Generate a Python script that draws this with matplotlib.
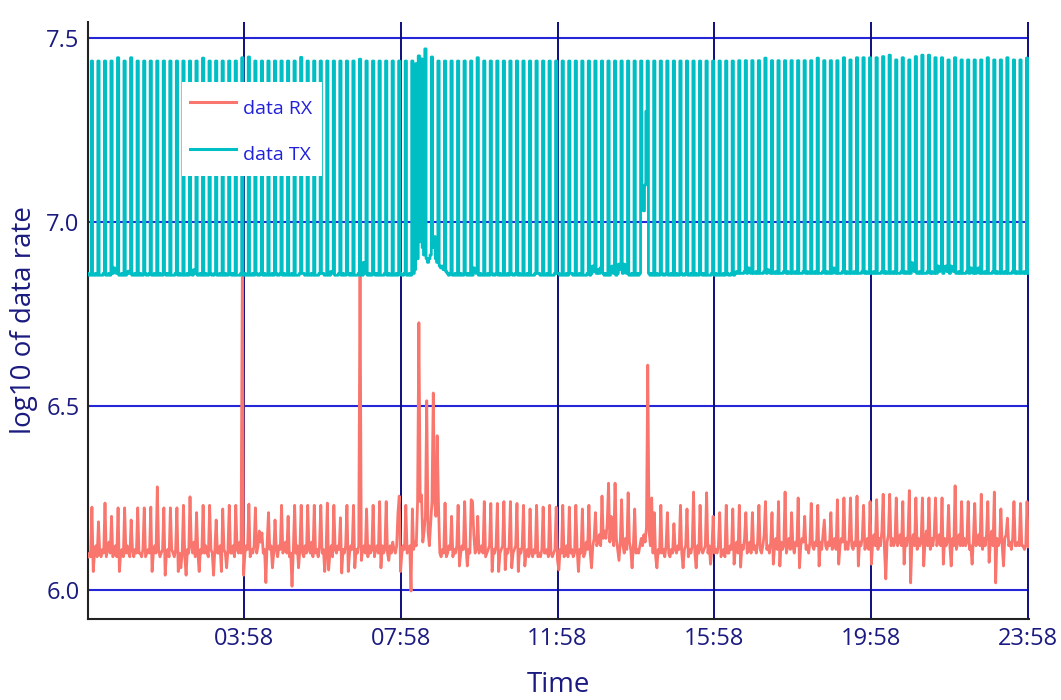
import matplotlib
matplotlib.use("Agg")
import matplotlib.pyplot as plt
from matplotlib.patches import Rectangle
import numpy as np

plt.rcParams['font.family'] = ['Open Sans', 'DejaVu Sans']

# ---------------- data (log10 of data rate, one sample every 2 minutes) ----------------
sample_minutes = 2

tx = [
    6.86, 6.855, 6.855, 7.437, 6.855,   6.855, 6.86, 6.855, 7.437, 6.855,   6.855, 6.855, 6.86, 7.437, 6.855,   6.855, 6.86, 6.855, 7.437, 6.86,
    6.875, 6.865, 6.86, 7.446, 6.855,   6.855, 6.86, 6.855, 7.437, 6.855,   6.86, 6.866, 6.86, 7.446, 6.855,    6.855, 6.86, 6.855, 7.437, 6.855,
    6.86, 6.855, 6.855, 7.437, 6.86,    6.855, 6.855, 6.86, 7.437, 6.855,   6.855, 6.86, 6.855, 7.437, 6.855,   6.86, 6.855, 6.855, 7.437, 6.86,
    6.855, 6.86, 6.855, 7.437, 6.855,   6.855, 6.855, 6.86, 7.437, 6.855,   6.86, 6.855, 6.855, 7.437, 6.855,   6.855, 6.86, 6.855, 7.437, 6.86,
    6.855, 6.87, 6.86, 7.437, 6.855,    6.855, 6.86, 6.855, 7.445, 6.855,   6.86, 6.855, 6.855, 7.437, 6.86,    6.855, 6.855, 6.86, 7.437, 6.855,
    6.855, 6.86, 6.855, 7.437, 6.855,   6.86, 6.855, 6.855, 7.437, 6.86,    6.855, 6.86, 6.855, 7.437, 6.855,   6.855, 6.855, 6.86, 7.446, 6.855,
    6.86, 6.855, 6.855, 7.448, 6.855,   6.855, 6.86, 6.855, 7.437, 6.86,    6.855, 6.855, 6.86, 7.437, 6.855,   6.86, 6.855, 6.855, 7.437, 6.855,
    6.855, 6.86, 6.855, 7.437, 6.86,    6.855, 6.855, 6.86, 7.437, 6.855,   6.86, 6.855, 6.855, 7.437, 6.855,   6.855, 6.86, 6.855, 7.437, 6.855,
    6.855, 6.855, 6.86, 7.447, 6.86,    6.86, 6.855, 6.855, 7.437, 6.855,   6.855, 6.86, 6.855, 7.437, 6.855,   6.855, 6.855, 6.86, 7.437, 6.86,
    6.86, 6.855, 6.855, 7.437, 6.855,   6.855, 6.865, 6.86, 7.437, 6.855,   6.855, 6.855, 6.86, 7.437, 6.855,   6.86, 6.855, 6.855, 7.437, 6.86,
    6.855, 6.86, 6.855, 7.437, 6.855,   6.855, 6.855, 6.86, 7.442, 6.855,   6.855, 6.89, 6.86, 7.437, 6.855,    6.86, 6.855, 6.855, 7.437, 6.86,
    6.855, 6.86, 6.855, 7.437, 6.855,   6.855, 6.855, 6.86, 7.437, 6.855,   6.86, 6.855, 6.855, 7.437, 6.855,   6.855, 6.86, 6.855, 7.437, 6.86,
    6.855, 6.855, 6.86, 7.437, 6.855,   6.855, 6.86, 6.855, 7.437, 6.86,    6.87, 7.43, 6.90, 7.451, 6.946,      7.443, 6.93, 6.91, 7.47, 6.90,
    6.89, 6.90, 6.91, 7.448, 6.93,      6.96, 6.90, 6.89, 7.437, 6.88,      6.875, 6.88, 6.87, 7.437, 6.865,    6.86, 6.855, 6.86, 7.437, 6.855,
    6.855, 6.86, 6.855, 7.437, 6.855,   6.86, 6.855, 6.855, 7.437, 6.86,    6.855, 6.86, 6.855, 7.437, 6.855,   6.875, 6.865, 6.86, 7.446, 6.855,
    6.86, 6.855, 6.855, 7.437, 6.855,   6.855, 6.86, 6.855, 7.437, 6.86,    6.855, 6.855, 6.86, 7.437, 6.855,   6.86, 6.855, 6.855, 7.437, 6.855,
    6.855, 6.86, 6.855, 7.437, 6.86,    6.855, 6.855, 6.86, 7.437, 6.855,   6.86, 6.855, 6.855, 7.437, 6.855,   6.855, 6.86, 6.855, 7.437, 6.855,
    6.855, 6.855, 6.86, 7.437, 6.86,    6.86, 6.855, 6.855, 7.437, 6.855,   6.855, 6.86, 6.855, 7.437, 6.855,   6.855, 6.855, 6.86, 7.437, 6.86,
    6.86, 6.855, 6.855, 7.437, 6.855,   6.855, 6.86, 6.855, 7.437, 6.86,
    6.86, 6.855, 6.855, 7.437, 6.855,   6.855, 6.86, 6.855, 7.437, 6.855,   6.855, 6.855, 6.86, 7.437, 6.855,   6.86, 6.88, 6.865, 7.437, 6.86,
    6.87, 6.86, 6.875, 7.437, 6.86,     6.855, 6.86, 6.855, 7.437, 6.855,   6.865, 6.88, 6.86, 7.437, 6.855,    6.86, 6.885, 6.87, 7.437, 6.86,
    6.885, 6.87, 6.86, 7.437, 6.855,    6.855, 6.86, 6.855, 7.437, 6.855,   6.86, 6.855, 6.86, 7.437, 7.08,     7.03, 7.10, 7.30, 7.437, 6.86,
    6.855, 6.86, 6.855, 7.437, 6.855,   6.86, 6.855, 6.855, 7.437, 6.86,    6.855, 6.855, 6.86, 7.437, 6.855,   6.855, 6.86, 6.855, 7.437, 6.855,
    6.86, 6.855, 6.855, 7.437, 6.86,    6.855, 6.855, 6.86, 7.437, 6.855,   6.855, 6.86, 6.855, 7.437, 6.855,   6.86, 6.855, 6.855, 7.437, 6.86,
    6.855, 6.86, 6.855, 7.437, 6.855,   6.855, 6.855, 6.86, 7.437, 6.855,   6.86, 6.855, 6.855, 7.437, 6.855,   6.855, 6.86, 6.855, 7.437, 6.86,
    6.855, 6.855, 6.86, 7.437, 6.855,   6.86, 6.865, 6.86, 7.438, 6.86,     6.86, 6.86, 6.865, 7.438, 6.86,     6.875, 6.865, 6.86, 7.438, 6.86,
    6.86, 6.865, 6.86, 7.438, 6.86,     6.86, 6.86, 6.865, 7.445, 6.86,     6.87, 6.865, 6.86, 7.438, 6.86,     6.86, 6.865, 6.86, 7.438, 6.86,
    6.86, 6.86, 6.865, 7.438, 6.86,     6.865, 6.86, 6.86, 7.438, 6.86,     6.86, 6.865, 6.86, 7.438, 6.86,     6.86, 6.86, 6.865, 7.438, 6.86,
    6.865, 6.86, 6.86, 7.438, 6.86,     6.86, 6.865, 6.86, 7.445, 6.86,     6.86, 6.86, 6.865, 7.438, 6.86,     6.865, 6.86, 6.86, 7.438, 6.86,
    6.875, 6.865, 6.86, 7.438, 6.86,    6.86, 6.86, 6.865, 7.446, 6.86,     6.865, 6.86, 6.86, 7.44, 6.86,      6.86, 6.865, 6.86, 7.446, 6.86,
    6.86, 6.86, 6.865, 7.446, 6.86,     6.865, 6.86, 6.86, 7.446, 6.86,     6.86, 6.865, 6.86, 7.446, 6.86,     6.86, 6.86, 6.865, 7.449, 6.86,
    6.865, 6.86, 6.86, 7.453, 6.86,     6.86, 6.865, 6.86, 7.44, 6.86,      6.86, 6.86, 6.865, 7.446, 6.86,     6.865, 6.86, 6.86, 7.44, 6.86,
    6.889, 6.875, 6.865, 7.449, 6.86,   6.86, 6.865, 6.86, 7.453, 6.86,     6.86, 6.86, 6.865, 7.453, 6.86,     6.865, 6.86, 6.86, 7.446, 6.86,
    6.88, 6.865, 6.87, 7.446, 6.86,     6.87, 6.88, 6.865, 7.44, 6.86,      6.88, 6.87, 6.865, 7.446, 6.86,     6.86, 6.865, 6.86, 7.44, 6.86,
    6.86, 6.86, 6.865, 7.44, 6.86,      6.875, 6.865, 6.86, 7.44, 6.86,     6.87, 6.875, 6.86, 7.44, 6.86,      6.86, 6.865, 6.86, 7.446, 6.86,
    6.86, 6.86, 6.865, 7.44, 6.86,      6.865, 6.86, 6.86, 7.44, 6.86,      6.86, 6.865, 6.86, 7.446, 6.86,     6.86, 6.86, 6.865, 7.44, 6.86,
    6.865, 6.86, 6.86, 7.44, 6.86,      6.86, 6.865, 6.86, 7.445, 6.86,
]

rx = [
    6.09, 6.10, 6.09, 6.225, 6.05,   6.10, 6.12, 6.09, 6.185, 6.10,   6.09, 6.11, 6.10, 6.236, 6.09,   6.11, 6.13, 6.10, 6.20, 6.09,
    6.10, 6.12, 6.09, 6.223, 6.05,   6.10, 6.11, 6.09, 6.223, 6.10,   6.12, 6.10, 6.09, 6.19, 6.11,    6.09, 6.11, 6.10, 6.223, 6.10,
    6.10, 6.09, 6.11, 6.223, 6.09,   6.10, 6.11, 6.10, 6.225, 6.05,   6.10, 6.12, 6.10, 6.28, 6.11,    6.09, 6.10, 6.11, 6.223, 6.04,
    6.10, 6.11, 6.09, 6.223, 6.11,   6.10, 6.09, 6.11, 6.223, 6.05,   6.10, 6.06, 6.10, 6.23, 6.09,    6.04, 6.11, 6.10, 6.253, 6.12,
    6.10, 6.13, 6.09, 6.21, 6.10,    6.05, 6.11, 6.10, 6.23, 6.10,    6.12, 6.10, 6.09, 6.23, 6.11,    6.10, 6.04, 6.11, 6.19, 6.10,
    6.10, 6.12, 6.05, 6.22, 6.11,    6.10, 6.06, 6.11, 6.23, 6.10,    6.10, 6.12, 6.09, 6.23, 6.11,    6.10, 6.13, 6.10, 6.87, 6.04,
    6.10, 6.12, 6.11, 6.233, 6.09,   6.11, 6.10, 6.12, 6.223, 6.10,   6.12, 6.16, 6.13, 6.155, 6.10,   6.11, 6.02, 6.13, 6.21, 6.11,
    6.12, 6.06, 6.10, 6.19, 6.11,    6.09, 6.12, 6.11, 6.23, 6.10,    6.11, 6.13, 6.10, 6.20, 6.09,    6.10, 6.01, 6.11, 6.23, 6.10,
    6.12, 6.06, 6.11, 6.23, 6.10,    6.09, 6.12, 6.10, 6.23, 6.11,    6.10, 6.13, 6.09, 6.23, 6.10,    6.11, 6.09, 6.12, 6.23, 6.10,
    6.11, 6.05, 6.10, 6.236, 6.054,  6.10, 6.12, 6.09, 6.23, 6.11,    6.10, 6.12, 6.11, 6.196, 6.046,  6.11, 6.10, 6.12, 6.23, 6.05,
    6.10, 6.12, 6.11, 6.23, 6.06,    6.11, 6.10, 6.12, 6.87, 6.08,    6.11, 6.12, 6.10, 6.22, 6.09,    6.12, 6.10, 6.11, 6.23, 6.09,
    6.11, 6.12, 6.10, 6.24, 6.06,    6.12, 6.10, 6.11, 6.24, 6.10,    6.08, 6.12, 6.10, 6.13, 6.11,    6.10, 6.12, 6.21, 6.255, 6.05,
    6.10, 6.12, 6.11, 6.23, 6.10,    6.11, 6.12, 5.997, 6.22, 6.11,   6.13, 6.12, 6.24, 6.726, 6.24,   6.258, 6.13, 6.16, 6.20, 6.514,
    6.16, 6.12, 6.18, 6.24, 6.535,   6.24, 6.20, 6.419, 6.23, 6.10,   6.09, 6.11, 6.10, 6.236, 6.09,   6.10, 6.12, 6.11, 6.20, 6.09,
    6.11, 6.10, 6.12, 6.23, 6.065,   6.10, 6.12, 6.11, 6.24, 6.12,    6.065, 6.11, 6.10, 6.245, 6.24,  6.15, 6.10, 6.11, 6.20, 6.10,
    6.11, 6.12, 6.10, 6.24, 6.09,    6.10, 6.11, 6.12, 6.235, 6.05,   6.11, 6.10, 6.12, 6.235, 6.05,   6.10, 6.11, 6.12, 6.24, 6.055,
    6.11, 6.10, 6.12, 6.24, 6.06,    6.10, 6.11, 6.12, 6.235, 6.05,   6.11, 6.10, 6.12, 6.23, 6.065,   6.10, 6.11, 6.09, 6.22, 6.10,
    6.09, 6.11, 6.10, 6.23, 6.09,    6.10, 6.09, 6.11, 6.225, 6.10,   6.10, 6.11, 6.09, 6.23, 6.10,    6.09, 6.10, 6.11, 6.225, 6.08,
    6.054, 6.11, 6.10, 6.23, 6.09,   6.10, 6.12, 6.09, 6.225, 6.10,   6.11, 6.09, 6.10, 6.23, 6.11,    6.05, 6.11, 6.10, 6.22, 6.09,
    6.10, 6.13, 6.11, 6.23, 6.10,    6.06, 6.12, 6.14, 6.21, 6.12,    6.13, 6.15, 6.12, 6.255, 6.14,   6.16, 6.14, 6.18, 6.29, 6.13,
    6.20, 6.15, 6.12, 6.29, 6.14,    6.11, 6.08, 6.13, 6.245, 6.12,   6.10, 6.14, 6.11, 6.264, 6.13,   6.11, 6.06, 6.12, 6.22, 6.10,
    6.11, 6.10, 6.12, 6.14, 6.12,    6.15, 6.13, 6.17, 6.611, 6.16,   6.12, 6.25, 6.10, 6.21, 6.09,    6.06, 6.11, 6.10, 6.23, 6.10,
    6.11, 6.09, 6.12, 6.21, 6.10,    6.09, 6.11, 6.10, 6.18, 6.11,    6.10, 6.12, 6.11, 6.23, 6.10,    6.06, 6.11, 6.12, 6.22, 6.09,
    6.11, 6.10, 6.12, 6.266, 6.10,   6.06, 6.12, 6.10, 6.23, 6.11,    6.10, 6.11, 6.12, 6.264, 6.10,   6.12, 6.07, 6.11, 6.20, 6.10,
    6.11, 6.10, 6.12, 6.21, 6.09,    6.10, 6.11, 6.09, 6.23, 6.10,    6.10, 6.12, 6.11, 6.22, 6.07,    6.11, 6.13, 6.10, 6.23, 6.062,
    6.12, 6.11, 6.14, 6.21, 6.10,    6.11, 6.13, 6.10, 6.21, 6.11,    6.12, 6.10, 6.13, 6.23, 6.11,    6.10, 6.12, 6.15, 6.24, 6.11,
    6.12, 6.10, 6.13, 6.21, 6.07,    6.12, 6.14, 6.11, 6.24, 6.065,   6.13, 6.11, 6.12, 6.266, 6.10,   6.12, 6.14, 6.11, 6.21, 6.12,
    6.10, 6.13, 6.12, 6.25, 6.06,    6.12, 6.14, 6.13, 6.20, 6.11,    6.12, 6.10, 6.13, 6.235, 6.12,   6.11, 6.13, 6.12, 6.23, 6.065,
    6.13, 6.11, 6.15, 6.19, 6.12,    6.11, 6.13, 6.12, 6.21, 6.11,    6.12, 6.14, 6.11, 6.245, 6.07,   6.12, 6.14, 6.13, 6.25, 6.11,
    6.13, 6.11, 6.14, 6.25, 6.12,    6.11, 6.13, 6.12, 6.255, 6.065,  6.13, 6.12, 6.14, 6.23, 6.11,    6.12, 6.14, 6.11, 6.24, 6.07,
    6.13, 6.15, 6.12, 6.245, 6.11,   6.14, 6.12, 6.16, 6.26, 6.11,    6.03, 6.13, 6.15, 6.26, 6.12,    6.14, 6.12, 6.13, 6.25, 6.12,
    6.13, 6.15, 6.12, 6.24, 6.07,    6.14, 6.12, 6.15, 6.27, 6.019,   6.13, 6.15, 6.12, 6.25, 6.11,    6.14, 6.12, 6.13, 6.25, 6.065,
    6.13, 6.16, 6.12, 6.25, 6.11,    6.14, 6.12, 6.15, 6.25, 6.12,    6.13, 6.15, 6.12, 6.25, 6.07,    6.14, 6.12, 6.13, 6.23, 6.12,
    6.065, 6.14, 6.12, 6.283, 6.11,  6.13, 6.15, 6.12, 6.24, 6.12,    6.14, 6.12, 6.13, 6.24, 6.11,    6.12, 6.07, 6.14, 6.235, 6.12,
    6.13, 6.15, 6.12, 6.26, 6.11,    6.14, 6.12, 6.15, 6.24, 6.075,   6.13, 6.16, 6.12, 6.266, 6.019,  6.14, 6.12, 6.13, 6.22, 6.12,
    6.065, 6.14, 6.15, 6.195, 6.12,  6.13, 6.11, 6.14, 6.24, 6.12,    6.12, 6.13, 6.12, 6.235, 6.12,   6.12, 6.11, 6.12, 6.24, 6.117,
]

series_names = ["data RX", "data TX"]
series_colors = ["#F8766D", "#00BFC4"]

x_tick_labels = ["03:58", "07:58", "11:58", "15:58", "19:58", "23:58"]
y_ticks = [6.0, 6.5, 7.0, 7.5]

n = min(len(tx), len(rx))
tx = tx[:n]
rx = rx[:n]
minutes = np.arange(n) * sample_minutes
x_tick_pos = [int(s[:2]) * 60 + int(s[3:]) for s in x_tick_labels]

# ---------------- figure ----------------
W, H = 1061, 700
fig = plt.figure(figsize=(W / 100, H / 100), dpi=100)
ax = fig.add_axes([88 / W, 81 / H, 941 / W, 597 / H])

ax.plot(minutes, rx, color=series_colors[0], lw=2.0, label=series_names[0], zorder=3)
ax.plot(minutes, tx, color=series_colors[1], lw=2.0, label=series_names[1], zorder=4,
        drawstyle='steps-mid')

ax.set_xlim(0, 1439)
ax.set_ylim(5.921, 7.543)

for yv in y_ticks:
    ax.axhline(yv, color='#2626d9', lw=1.5, zorder=1)
for xv in x_tick_pos:
    ax.axvline(xv, color='#0d0d80', lw=1.4, zorder=1)

ax.set_xticks(x_tick_pos)
ax.set_xticklabels(x_tick_labels)
ax.set_yticks(y_ticks)
ax.set_yticklabels([f"{v:.1f}" for v in y_ticks])
ax.tick_params(axis='both', length=0, labelsize=17, labelcolor='#1a1a80', pad=6)

for side in ['top', 'right']:
    ax.spines[side].set_visible(False)
for side in ['left', 'bottom']:
    ax.spines[side].set_color('#222222')
    ax.spines[side].set_linewidth(1.5)

ax.set_xlabel("Time", fontsize=20, color='#1a1a80', labelpad=14)
ax.set_ylabel("log10 of data rate", fontsize=20, color='#1a1a80', labelpad=6)

# legend background box (white, no border)
ax.add_patch(Rectangle(((182 - 88) / 941, (619 - 176) / 597), 140 / 941, 94.5 / 597,
                       transform=ax.transAxes, facecolor='white', edgecolor='none',
                       zorder=8))

leg = ax.legend(loc='upper left', bbox_to_anchor=((182 - 88) / 941, (619 - 83) / 597),
                frameon=False, fontsize=14, handlelength=2.4,
                handleheight=2.3, labelspacing=0.65, borderpad=0.4,
                handletextpad=0.35, borderaxespad=0)
leg.set_zorder(10)
for txt in leg.get_texts():
    txt.set_color('#2020dd')
for line in leg.get_lines():
    line.set_linewidth(2.2)

fig.savefig("out.png", dpi=100)
